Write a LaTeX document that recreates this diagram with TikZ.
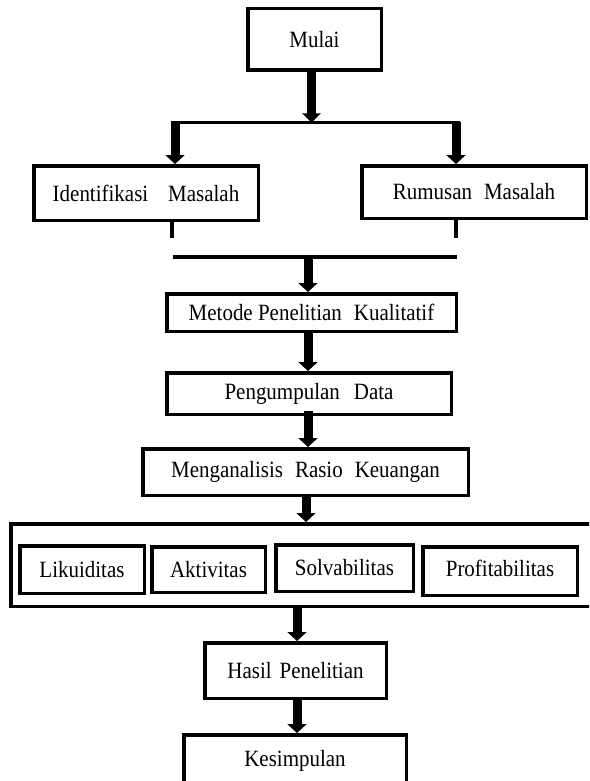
\documentclass[tikz,border=0pt]{standalone}
\usepackage{fontspec}
\setmainfont{Liberation Serif}[FakeStretch=0.9]
\usetikzlibrary{arrows.meta}
\tikzset{
  box/.style={draw, line width=3.5pt, fill=white, inner sep=0pt,
    font=\fontsize{23.3}{27}\selectfont},
  arr/.style={line width=9pt, -{Triangle[width=19pt,length=9pt]}},
  conn/.style={line width=3.5pt},
}
\begin{document}
\begin{tikzpicture}[x=1pt,y=-1pt]
\useasboundingbox (0,0) rectangle (589,781);
\clip (0,0) rectangle (589,781);

% boxes
\node[box, minimum width=133.5pt, minimum height=61.5pt] (mulai) at (314.5,39.5) {Mulai};
\node[box, minimum width=224.5pt, minimum height=54.5pt] (ident) at (146,193) {Identifikasi\hspace{20pt}Masalah};
\node[box, minimum width=224.5pt, minimum height=52.5pt] (rumus) at (474,192) {Rumusan\hspace{12pt}Masalah};
\node[box, minimum width=289.5pt, minimum height=37.5pt] (metode) at (311.5,312.5) {Metode Penelitian\hspace{12pt}Kualitatif};
\node[box, minimum width=284.5pt, minimum height=41.5pt] (kumpul) at (309,393.5) {Pengumpulan\hspace{14pt}Data};
\node[box, minimum width=325.5pt, minimum height=46.5pt] (analisis) at (305.5,472) {Menganalisis\hspace{12pt}Rasio\hspace{12pt}Keuangan\hspace{25pt}};
\node[box, minimum width=581.5pt, minimum height=82.5pt] (rasio) at (301.5,565) {};
\node[box, minimum width=124.5pt, minimum height=47.5pt] (likuid) at (82,569.5) {Likuiditas};
\node[box, minimum width=113.5pt, minimum height=45.5pt] (aktiv) at (208.5,569.5) {Aktivitas};
\node[box, minimum width=137.5pt, minimum height=46.5pt] (solva) at (344.5,568) {Solvabilitas};
\node[box, minimum width=154.5pt, minimum height=48.5pt] (profit) at (500,571) {\raisebox{6pt}{Profitabilitas}};
\node[box, minimum width=181.5pt, minimum height=55.5pt] (hasil) at (295.5,670.5) {Hasil\hspace{8pt}Penelitian\hspace{14pt}};
\node[box, minimum width=222.5pt, minimum height=52.5pt] (simpul) at (295,761) {Kesimpulan};

% junction points
\coordinate (j1) at (311.5,122.5);
\coordinate (aL) at (175,122.5);
\coordinate (aR) at (456,122.5);
\coordinate (sL) at (172,238);
\coordinate (sR) at (456,238);
\coordinate (hL) at (173,257);
\coordinate (hR) at (457,257);
\coordinate (j2) at (308,257);
\coordinate (c3) at (308,0);
\coordinate (c4) at (306,0);
\coordinate (c5) at (297,0);

% connectors
\draw[line width=9pt, -{Triangle[width=18pt,length=9pt]}] (mulai.south -| j1) -- (j1);
\draw[conn] ([xshift=-4pt]aL) -- ([xshift=4pt]aR);
\draw[arr] (aL) -- (aL |- ident.north);
\draw[arr] (aR) -- (aR |- rumus.north);
\draw[line width=4.5pt] (ident.south -| sL) -- (sL);
\draw[line width=4.5pt] (rumus.south -| sR) -- (sR);
\draw[line width=4pt] (hL) -- (hR);
\draw[arr] (j2) -- (j2 |- metode.north);
\draw[arr] (metode.south -| c3) -- (c3 |- kumpul.north);
\draw[arr] ([yshift=5pt]kumpul.south -| c3) -- (c3 |- analisis.north);
\draw[arr] (analisis.south -| c4) -- (c4 |- rasio.north);
\draw[arr] (rasio.south -| c5) -- (c5 |- hasil.north);
\draw[arr] (hasil.south -| c5) -- (c5 |- simpul.north);
\end{tikzpicture}
\end{document}
